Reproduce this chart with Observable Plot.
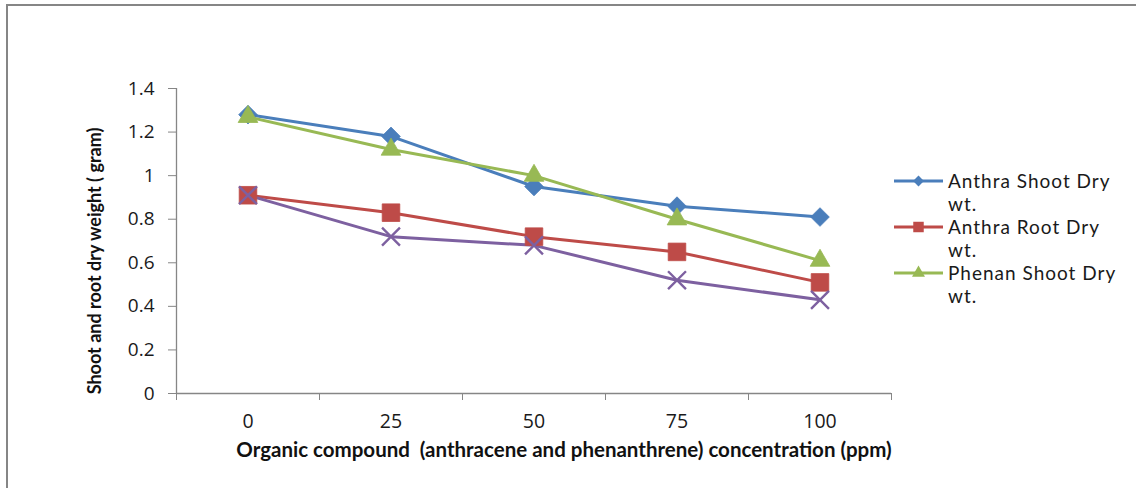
<!DOCTYPE html>
<html>
<head>
<meta charset="utf-8">
<script src="https://cdn.jsdelivr.net/npm/d3@7"></script>
<script src="https://cdn.jsdelivr.net/npm/@observablehq/plot@0.6"></script>
<style>
  body { margin: 0; background: #fff; }
  #wrap { position: relative; width: 1136px; height: 488px; overflow: hidden; background: #fff; }
  #chart { position: absolute; left: 0; top: 0; }
  #frame { position: absolute; left: 6px; top: 4px; width: 1300px; height: 700px;
           border-left: 2px solid #868686; border-top: 2px solid #868686; }
  #legend { position: absolute; left: 0; top: 0; }
</style>
</head>
<body>
<div id="wrap">
  <div id="chart"></div>
  <div id="frame"></div>
  <svg id="legend" width="1136" height="488"></svg>
</div>
<script>
// ---- data ----
const concentrations = [0, 25, 50, 75, 100];
const seriesNames = ["Anthra Shoot Dry wt.", "Anthra Root Dry wt.", "Phenan Shoot Dry wt.", "Phenan Root Dry wt."];
const anthraShoot = [1.28, 1.18, 0.95, 0.86, 0.81];
const anthraRoot  = [0.91, 0.83, 0.72, 0.65, 0.51];
const phenanShoot = [1.27, 1.12, 1.00, 0.80, 0.61];
const phenanRoot  = [0.91, 0.72, 0.68, 0.52, 0.43];
const legendNames = ["Anthra Shoot Dry wt.", "Anthra Root Dry wt.", "Phenan Shoot Dry wt."];
const yTicks = [0, 0.2, 0.4, 0.6, 0.8, 1, 1.2, 1.4];
const xTitle = "Organic compound  (anthracene and phenanthrene) concentration (ppm)";
const yTitle = "Shoot and root dry weight ( gram)";

// ---- styles ----
const colors = ["#4A7EBB", "#BE4B48", "#98B954", "#7D60A0"];
const symbols = ["diamond2", "square2", "triangle2", "times"];
const symbolR = [8.4, 11.2, 9.4, 8.2];
const axisGray = "#868686";
const tickFont = "'Open Sans', Lato, sans-serif";
const textFont = "Lato, 'Open Sans', sans-serif";

const valuesBySeries = [anthraShoot, anthraRoot, phenanShoot, phenanRoot];
const rows = [];
seriesNames.forEach((name, s) => {
  concentrations.forEach((c, i) => rows.push({series: name, idx: s, conc: c, value: valuesBySeries[s][i]}));
});

// category boundaries (Excel-style ticks between categories)
const step = concentrations[1] - concentrations[0];
const bounds = concentrations.map(c => c - step / 2).concat([concentrations[concentrations.length - 1] + step / 2]);

const chart = Plot.plot({
  width: 1136,
  height: 488,
  marginLeft: 176,
  marginRight: 245,
  marginTop: 88,
  marginBottom: 95,
  style: {fontFamily: tickFont, background: "transparent", overflow: "visible", color: "#1a1a1a"},
  x: {domain: [bounds[0], bounds[bounds.length - 1]]},
  y: {domain: [0, 1.4]},
  color: {domain: seriesNames, range: colors},
  symbol: {domain: seriesNames, range: symbols},
  marks: [
    Plot.axisX({ticks: bounds, tickFormat: () => "", tickSize: 7, stroke: axisGray, label: null}),
    Plot.axisX({ticks: concentrations, tickSize: 0, tickPadding: 21, fontSize: 19.5, tickFormat: d => `${d}`, label: null}),
    Plot.axisY({ticks: yTicks, tickSize: 8, tickPadding: 14, fontSize: 19, stroke: axisGray, tickFormat: d => `${d}`, label: null}),
    Plot.ruleY([0], {stroke: axisGray, strokeWidth: 1.3}),
    Plot.ruleX([bounds[0]], {stroke: axisGray, strokeWidth: 1.3}),
    Plot.line(rows, {x: "conc", y: "value", z: "series", stroke: "series", strokeWidth: 3}),
    ...seriesNames.map((name, s) =>
      Plot.dot(rows.filter(d => d.idx === s), {
        x: "conc", y: "value", symbol: "series", r: symbolR[s],
        fill: s === 3 ? "none" : "series",
        stroke: "series",
        strokeWidth: s === 3 ? 2.4 : 0.8
      })
    ),
    Plot.text([xTitle], {frameAnchor: "bottom", dx: 30, dy: 63, fontFamily: textFont, fontWeight: "bold", fontSize: 20.5, fill: "#111"}),
    Plot.text([yTitle], {frameAnchor: "left", textAnchor: "middle", rotate: -90, dx: -81, dy: 20, fontFamily: textFont, fontWeight: "bold", fontSize: 18, fill: "#111"})
  ]
});
document.getElementById("chart").appendChild(chart);

// ---- legend (first three series only, as in the original) ----
const leg = d3.select("#legend");
const legSymbols = [d3.symbolDiamond2, d3.symbolSquare2, d3.symbolTriangle2];
const legSizes = [75, 140, 120];
legendNames.forEach((name, i) => {
  const y0 = 181 + 46 * i;
  const g = leg.append("g");
  g.append("line").attr("x1", 894).attr("x2", 943).attr("y1", y0).attr("y2", y0)
    .attr("stroke", colors[i]).attr("stroke-width", 3);
  g.append("path").attr("d", d3.symbol(legSymbols[i], legSizes[i])())
    .attr("transform", `translate(918.5,${y0})`).attr("fill", colors[i]);
  const cut = name.lastIndexOf(" ");
  [name.slice(0, cut), name.slice(cut + 1)].forEach((t, k) => {
    g.append("text").attr("x", 948).attr("y", y0 + 23 * k).attr("dy", "0.35em")
      .attr("font-family", textFont).attr("font-size", 19).attr("letter-spacing", "1px")
      .attr("fill", "#1a1a1a").text(t);
  });
});
</script>
</body>
</html>
